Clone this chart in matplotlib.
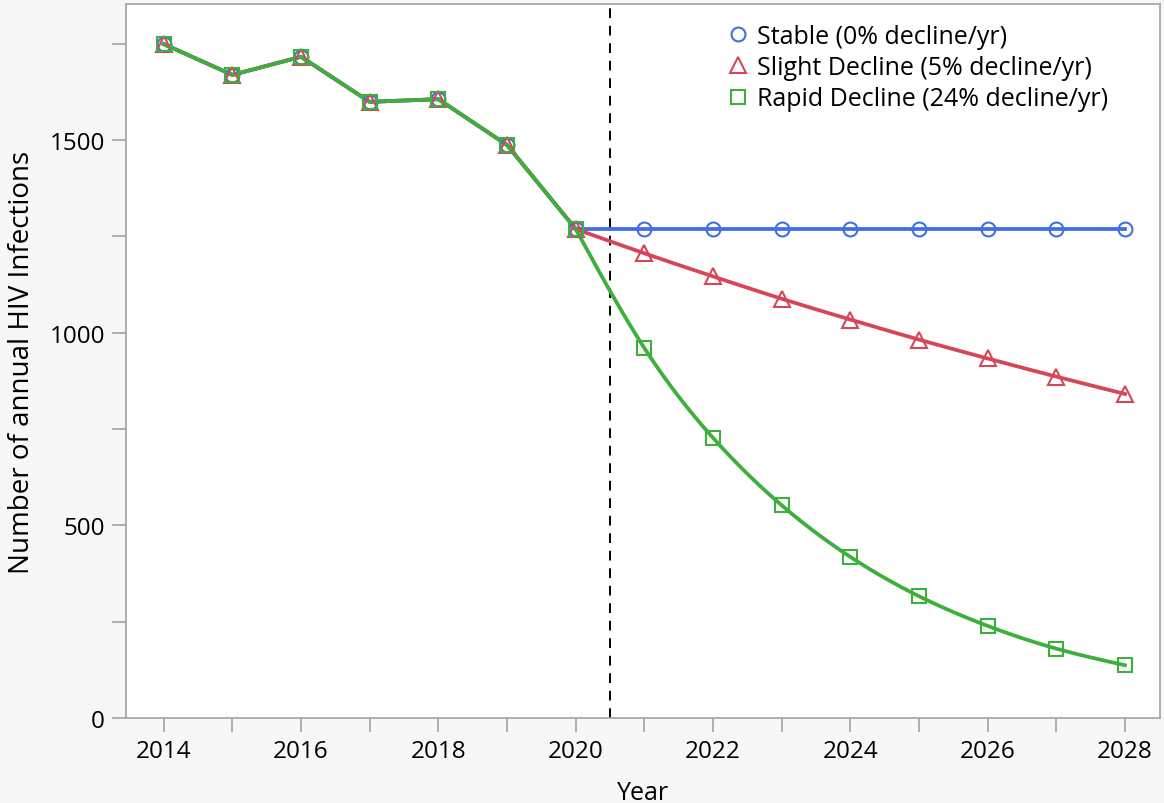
import numpy as np
import matplotlib
matplotlib.use("Agg")
import matplotlib.pyplot as plt
from matplotlib.ticker import MultipleLocator

plt.rcParams['font.family'] = ['Open Sans', 'DejaVu Sans']

hist_years = [2014, 2015, 2016, 2017, 2018, 2019, 2020]
hist_values = [1749, 1669, 1716, 1599, 1606, 1487, 1269]
proj_years = [2020, 2021, 2022, 2023, 2024, 2025, 2026, 2027, 2028]
stable_proj = [1269, 1269, 1269, 1269, 1269, 1269, 1269, 1269, 1269]
slight_proj = [1269, 1206, 1146, 1088, 1034, 982, 933, 886, 841]
rapid_proj = [1269, 960, 727, 552, 418, 316, 239, 180, 137]
labels = ["Stable (0% decline/yr)", "Slight Decline (5% decline/yr)",
          "Rapid Decline (24% decline/yr)"]
colors = ["#3f6fe0", "#d64657", "#3caf3c"]
markers = ["o", "^", "s"]
cutoff_year = 2020.5


def natural_spline(x, y, n=200):
    x = np.asarray(x, float); y = np.asarray(y, float)
    k = len(x)
    h = np.diff(x)
    A = np.zeros((k, k)); b = np.zeros(k)
    A[0, 0] = 1; A[-1, -1] = 1
    for i in range(1, k - 1):
        A[i, i - 1] = h[i - 1]
        A[i, i] = 2 * (h[i - 1] + h[i])
        A[i, i + 1] = h[i]
        b[i] = 3 * ((y[i + 1] - y[i]) / h[i] - (y[i] - y[i - 1]) / h[i - 1])
    c = np.linalg.solve(A, b)
    xs = np.linspace(x[0], x[-1], n)
    ys = np.empty_like(xs)
    for j, xv in enumerate(xs):
        i = min(np.searchsorted(x, xv, side='right') - 1, k - 2)
        bi = (y[i + 1] - y[i]) / h[i] - h[i] * (2 * c[i] + c[i + 1]) / 3
        di = (c[i + 1] - c[i]) / (3 * h[i])
        dx = xv - x[i]
        ys[j] = y[i] + bi * dx + c[i] * dx ** 2 + di * dx ** 3
    return xs, ys


fig = plt.figure(figsize=(11.64, 8.04), dpi=100, facecolor="#f7f7f7")
ax = fig.add_axes([0.1082, 0.1057, 0.8884, 0.8881])
ax.set_facecolor("white")

projs = [stable_proj, slight_proj, rapid_proj]
for proj, lab, col, mk in zip(projs, labels, colors, markers):
    ax.plot(hist_years, hist_values, color=col, lw=2.7, zorder=2)
    xs, ys = natural_spline(proj_years, proj)
    ax.plot(xs, ys, color=col, lw=2.7, zorder=2)
    ax.plot(hist_years + proj_years[1:], hist_values + proj[1:], ls='none',
            marker=mk, ms=10 if mk != "^" else 11.5, mfc='none', mec=col,
            mew=1.5, zorder=3, label=lab)

ax.axvline(cutoff_year, color="black", lw=1.4, ls=(0, (5, 4)), zorder=1)

ax.set_xlim(2013.45, 2028.51)
ax.set_ylim(0, 1853)
ax.xaxis.set_major_locator(MultipleLocator(2))
ax.xaxis.set_minor_locator(MultipleLocator(1))
ax.yaxis.set_major_locator(MultipleLocator(500))
ax.yaxis.set_minor_locator(MultipleLocator(250))
for s in ax.spines.values():
    s.set_color("#a8a8a8")
    s.set_linewidth(1.3)
ax.tick_params(which='both', length=10, width=1.3, color="#a8a8a8",
               labelsize=17.5, labelcolor="#000000")
ax.tick_params(axis='x', pad=5)
ax.tick_params(axis='y', pad=5)

ax.set_xlabel("Year", fontsize=18, color="#000000", labelpad=12)
ax.set_ylabel("Number of annual HIV Infections", fontsize=20, color="#000000",
              labelpad=10)

leg = ax.legend(loc='upper right', bbox_to_anchor=(0.959, 0.986), frameon=False,
                fontsize=18, handletextpad=0.25, labelspacing=0.25,
                handlelength=1.0, borderaxespad=0.0)
for t in leg.get_texts():
    t.set_color("#000000")

fig.savefig("out.png", dpi=100, facecolor=fig.get_facecolor())
